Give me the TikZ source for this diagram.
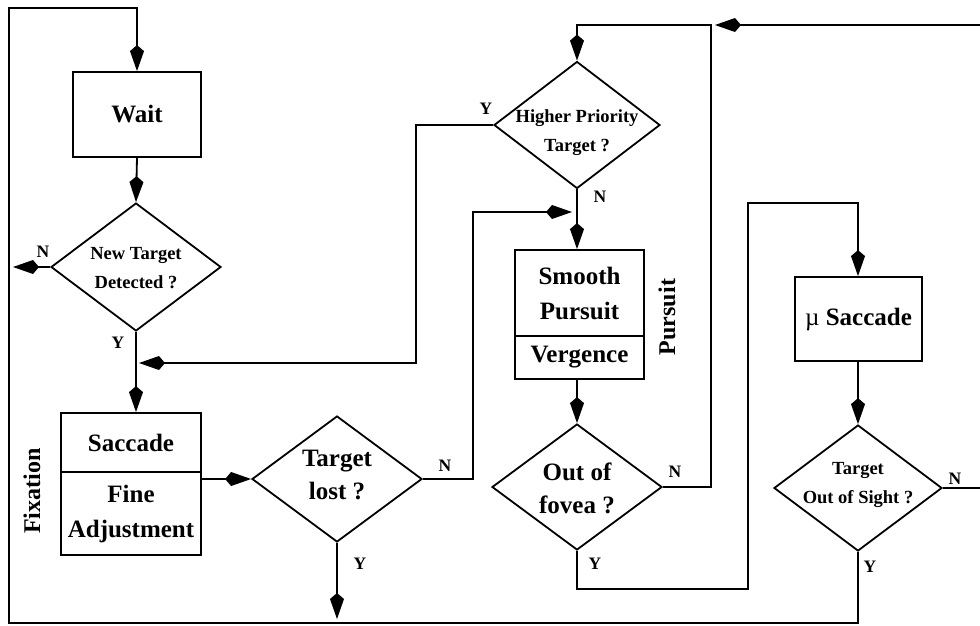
\documentclass[tikz,border=0pt]{standalone}
\usepackage{fontspec}
\setmainfont{Liberation Serif}
\usetikzlibrary{arrows.meta,shapes.geometric}
\begin{document}
\begin{tikzpicture}[x=1pt,y=-1pt,
  ln/.style={line width=1.8pt},
  ar/.style={line width=1.8pt,-{Kite[length=26pt,width=14pt,inset=6pt]}},
  box/.style={draw,line width=1.8pt,rectangle,inner sep=0pt,align=center,font=\fontsize{25}{35}\selectfont\bfseries},
  dia/.style={draw,line width=1.8pt,diamond,inner sep=0pt},
  btext/.style={align=center,font=\fontsize{25}{33}\selectfont\bfseries,inner sep=0pt},
  stext/.style={align=center,font=\fontsize{18.5}{29}\selectfont\bfseries,inner sep=0pt},
  yn/.style={font=\fontsize{17.5}{20}\selectfont\bfseries,inner sep=0pt},
  side/.style={font=\fontsize{24}{28}\selectfont\bfseries,inner sep=0pt,rotate=90}
]
\clip (0,0) rectangle (980,625);

% boxes
\node[box,minimum width=128pt,minimum height=85pt] (wait) at (137,114.5) {Wait};
\node[box,minimum width=140pt,minimum height=59pt] (sacA) at (131,442.5) {Saccade};
\node[box,minimum width=140pt,minimum height=83pt] (sacB) at (131,513.5) {Fine\\Adjustment};
\node[box,minimum width=129pt,minimum height=86pt] (spA) at (579.5,293) {Smooth\\Pursuit};
\node[box,minimum width=129pt,minimum height=43pt] (spB) at (579.5,357.5) {Vergence};
\node[box,minimum width=127pt,minimum height=84pt] (mus) at (858.5,319) {{\mdseries µ} Saccade};

% diamonds
\node[dia,minimum width=170pt,minimum height=128pt] (newt) at (136,267) {};
\node[stext] (newtT) at (136,268) {New Target\\Detected ?};
\node[dia,minimum width=170pt,minimum height=126pt] (lost) at (337,479) {};
\node[btext] (lostT) at (337,475) {Target\\lost ?};
\node[dia,minimum width=166pt,minimum height=127pt] (hp) at (577,125) {};
\node[stext] (hpT) at (577,133) {Higher Priority\\Target ?};
\node[dia,minimum width=170pt,minimum height=126pt] (fov) at (577,487) {};
\node[btext] (fovT) at (577,488) {Out of\\fovea ?};
\node[dia,minimum width=168pt,minimum height=126pt] (oos) at (858,488) {};
\node[stext] (oosT) at (858,485) {Target\\Out of Sight ?};

% coordinates
\coordinate (nEnd) at (13,267);
\coordinate (c1) at (416,363);
\coordinate (c1e) at (139,363);
\coordinate (c2) at (473,212);
\coordinate (c2e) at (572,212);
\coordinate (lostEnd) at (337,619);
\coordinate (c3) at (711,25);
\coordinate (c4) at (990,488);
\coordinate (c4e) at (715,25);
\coordinate (c5) at (577,589);
\coordinate (c6) at (748,203);
\coordinate (c7) at (858,623);
\coordinate (c8) at (9,8);

% connectors
\draw[ar] (wait.south) -- (newt.north);
\draw[ar] (newt.west) -- (nEnd);
\draw[ar] (newt.south) -- (newt.south |- sacA.north);
\draw[ar] (hp.west) -| (c1) -- (c1e);
\draw[ar] (sacB.east |- lost.west) -- (lost.west);
\draw[ar] (lost.east) -| (c2) -- (c2e);
\draw[ar] (lost.south) -- (lostEnd);
\draw[ar] (hp.south) -- (hp.south |- spA.north);
\draw[ar] (fov.north |- spB.south) -- (fov.north);
\draw[ar] (fov.east) -| (c3) -| (hp.north);
\draw[ar] (oos.east) -- (c4) |- (c4e);
\draw[ar] (fov.south) -- (c5) -| (c6) -| (oos.north |- mus.north);
\draw[ar] (oos.north |- mus.south) -- (oos.north);
\draw[ar] (oos.south) -- (c7) -| (c8) -| (wait.north);

% Y/N labels
\node[yn] (l1) at (43,252) {N};
\node[yn] (l2) at (118,343) {Y};
\node[yn] (l3) at (486,109) {Y};
\node[yn] (l4) at (445,466) {N};
\node[yn] (l5) at (360,564) {Y};
\node[yn] (l6) at (600,197) {N};
\node[yn] (l7) at (675,472) {N};
\node[yn] (l8) at (595,564) {Y};
\node[yn] (l9) at (955,479) {N};
\node[yn] (l10) at (870,567) {Y};

% side labels
\node[side] (fix) at (32,491) {Fixation};
\node[side] (pur) at (667,317) {Pursuit};
\end{tikzpicture}
\end{document}
